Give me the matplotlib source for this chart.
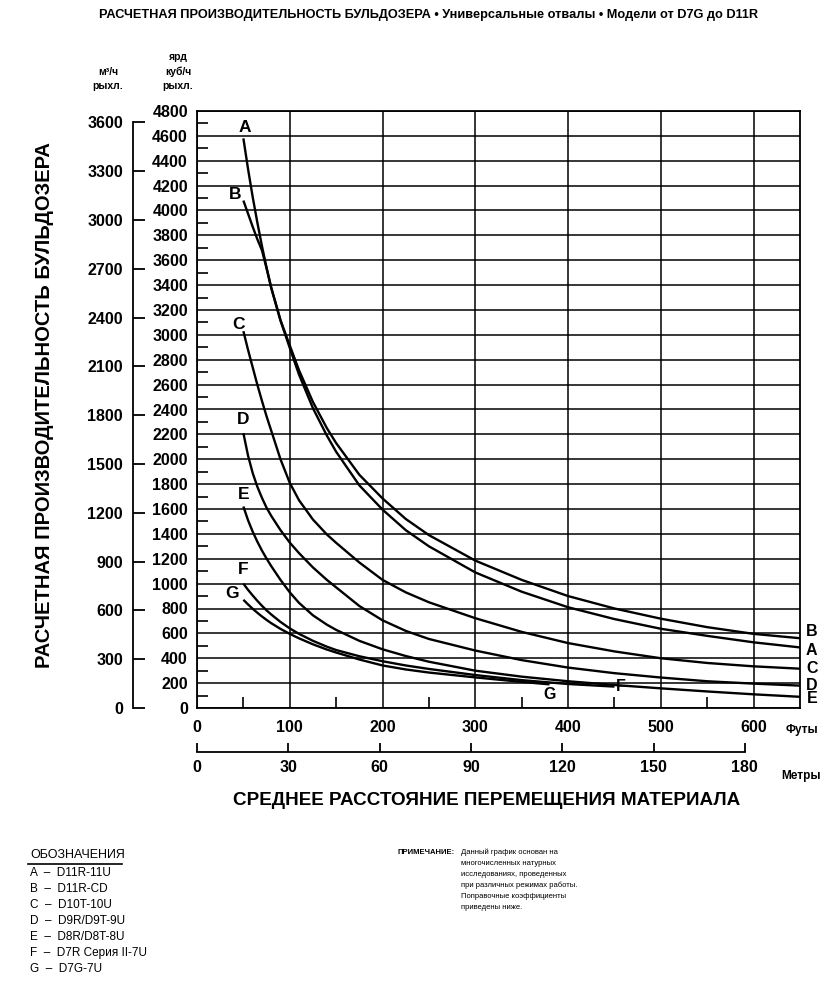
import matplotlib
matplotlib.use("Agg")
import matplotlib.pyplot as plt
from matplotlib.lines import Line2D

plt.rcParams['font.family'] = ['Liberation Sans', 'DejaVu Sans']
plt.rcParams['font.weight'] = 'bold'

# values: distance in feet, production in loose cubic yards per hour
dist_full = [50, 55, 60, 65, 70, 75, 80, 90, 100, 110, 125, 140, 150, 175, 200, 225, 250, 300, 350, 400, 450, 500, 550, 600, 650]
prod_a = [4580, 4335, 4110, 3905, 3715, 3540, 3380, 3115, 2895, 2680, 2410, 2190, 2060, 1790, 1595,
          1430, 1300, 1090, 935, 810, 715, 637, 580, 528, 487]
prod_b = [4080, 3975, 3870, 3770, 3680, 3535, 3378, 3118, 2915, 2715, 2460, 2250, 2130, 1875, 1685,
          1520, 1390, 1185, 1030, 900, 800, 718, 650, 596, 561]
prod_c = [3030, 2880, 2740, 2600, 2470, 2345, 2230, 2000, 1810, 1670, 1515, 1395, 1328, 1170, 1030,
          930, 850, 722, 612, 522, 455, 400, 362, 335, 316]
prod_d = [2210, 2030, 1890, 1780, 1690, 1610, 1545, 1430, 1330, 1245, 1130, 1030, 970, 820, 705,
          620, 555, 462, 385, 325, 280, 245, 215, 196, 180]
prod_e = [1620, 1510, 1418, 1338, 1266, 1201, 1141, 1030, 930, 845, 745, 670, 628, 540, 472,
          418, 372, 300, 252, 215, 185, 158, 133, 110, 90]
dist_f = [50, 55, 60, 65, 70, 75, 80, 90, 100, 110, 125, 140, 150, 175, 200, 225, 250, 300, 350, 400, 450]
prod_f = [1000, 950, 905, 862, 822, 785, 752, 692, 640, 596, 540, 493, 466, 416, 376, 342, 314, 265, 224, 193, 172]
dist_g = [50, 55, 60, 65, 70, 75, 80, 90, 100, 110, 125, 140, 150, 175, 200, 225, 250, 300, 350, 380]
prod_g = [870, 833, 798, 766, 736, 708, 682, 636, 596, 560, 512, 470, 446, 390, 342, 310, 285, 246, 210, 190]

curve_names = ['A', 'B', 'C', 'D', 'E', 'F', 'G']
models = ['D11R-11U', 'D11R-CD', 'D10T-10U', 'D9R/D9T-9U', 'D8R/D8T-8U', 'D7R Серия II-7U', 'D7G-7U']

feet_ticks = [0, 100, 200, 300, 400, 500, 600]
meter_ticks = [0, 30, 60, 90, 120, 150, 180]
yd_ticks = list(range(0, 4801, 200))
m3_ticks = list(range(0, 3601, 300))

note_lines = ['Данный график основан на', 'многочисленных натурных', 'исследованиях, проведенных',
              'при различных режимах работы.', 'Поправочные коэффициенты', 'приведены ниже.']

YD_PER_M3 = 1.308
M_PER_FT = 0.3048

fig = plt.figure(figsize=(8.33, 9.88), dpi=100)
ax = fig.add_axes([197 / 833, 280 / 988, 603 / 833, 597 / 988])

curves = [(dist_full, prod_a), (dist_full, prod_b), (dist_full, prod_c), (dist_full, prod_d),
          (dist_full, prod_e), (dist_f, prod_f), (dist_g, prod_g)]
for xs, ys in curves:
    ax.plot(xs, ys, color='black', lw=1.7, solid_capstyle='butt', solid_joinstyle='round', zorder=3)

# letters at the start of each curve (offsets in points)
start_offsets = [(1, 8), (-6, 4.5), (-3.5, 4.5), (0, 10), (0, 8.5), (0, 10), (-8.5, 4.5)]
for name, (xs, ys), off in zip(curve_names, curves, start_offsets):
    ax.annotate(name, (xs[0], ys[0]), xytext=off, textcoords='offset points',
                ha='center', va='center', fontsize=12.5, zorder=4)

# letters at the right hand end of the curves
end_offsets = [(8.5, -1.9), (8.5, 4.7), (8.5, 0), (8.5, 0), (8.5, -1.5), (4.8, 0), (0, -7.5)]
for name, (xs, ys), off in zip(curve_names, curves, end_offsets):
    ax.annotate(name, (xs[-1], ys[-1]), xytext=off, textcoords='offset points',
                ha='center', va='center', fontsize=11.5, annotation_clip=False, zorder=4)

ax.set_xlim(0, 650)
ax.set_ylim(0, 4800)
ax.set_xticks(feet_ticks)
ax.set_yticks(yd_ticks)
ax.set_xticks(list(range(50, 600, 100)), minor=True)
ax.set_yticks(list(range(100, 4800, 200)), minor=True)
ax.grid(True, which='major', color='black', lw=1.1, zorder=1)
ax.tick_params(which='major', length=0, labelsize=11.5)
ax.tick_params(axis='x', which='major', pad=9)
ax.tick_params(axis='y', which='major', pad=6.5)
ax.tick_params(which='minor', direction='in', length=8, width=1.2)
for sp in ax.spines.values():
    sp.set_linewidth(1.3)

# second scale: cubic metres per hour
sec_y = ax.secondary_yaxis(-0.1066, functions=(lambda v: v / YD_PER_M3, lambda v: v * YD_PER_M3))
sec_y.set_yticks(m3_ticks)
sec_y.tick_params(direction='in', length=8.6, width=1.3, pad=7, labelsize=11.5)
sec_y.spines['left'].set_bounds(0, 3600)
sec_y.spines['left'].set_linewidth(1.3)

# second scale: metres
sec_x = ax.secondary_xaxis(-0.0737, functions=(lambda v: v * M_PER_FT, lambda v: v / M_PER_FT))
sec_x.set_xticks(meter_ticks)
sec_x.tick_params(direction='in', length=6.5, width=1.3, pad=6, labelsize=11.5)
sec_x.spines['bottom'].set_bounds(0, 180)
sec_x.spines['bottom'].set_linewidth(1.3)

# titles and axis captions
fig.text(429 / 833, 1 - 15 / 988,
         'РАСЧЕТНАЯ ПРОИЗВОДИТЕЛЬНОСТЬ БУЛЬДОЗЕРА • Универсальные отвалы • Модели от D7G до D11R',
         ha='center', va='center', fontsize=9.2)
fig.text(45 / 833, 1 - 405 / 988, 'РАСЧЕТНАЯ ПРОИЗВОДИТЕЛЬНОСТЬ БУЛЬДОЗЕРА',
         rotation=90, ha='center', va='center', fontsize=14.5)
fig.text(487 / 833, 1 - 800 / 988, 'СРЕДНЕЕ РАССТОЯНИЕ ПЕРЕМЕЩЕНИЯ МАТЕРИАЛА',
         ha='center', va='center', fontsize=13.6)
fig.text(802 / 833, 1 - 730 / 988, 'Футы', ha='center', va='center', fontsize=8.5)
fig.text(801 / 833, 1 - 776 / 988, 'Метры', ha='center', va='center', fontsize=8.5)

for txt, yy in [('ярд', 57), ('куб/ч', 72), ('рыхл.', 86)]:
    fig.text(178 / 833, 1 - yy / 988, txt, ha='center', va='center', fontsize=7.5)
for txt, yy in [('м³/ч', 72), ('рыхл.', 86)]:
    fig.text(108 / 833, 1 - yy / 988, txt, ha='center', va='center', fontsize=7.5)

# legend block
fig.text(30 / 833, 1 - 855 / 988, 'ОБОЗНАЧЕНИЯ', ha='left', va='center', fontsize=9, fontweight='normal')
fig.add_artist(Line2D([28 / 833, 122 / 833], [1 - 864 / 988, 1 - 864 / 988], color='black', lw=1.2))
for i, (name, model) in enumerate(zip(curve_names, models)):
    fig.text(30 / 833, 1 - (873 + 16 * i) / 988, f'{name}  –  {model}',
             ha='left', va='center', fontsize=8.5, fontweight='normal')

# note
fig.text(398 / 833, 1 - 852 / 988, 'ПРИМЕЧАНИЕ:', ha='left', va='center', fontsize=5.5)
for i, line in enumerate(note_lines):
    fig.text(461 / 833, 1 - (852 + 11 * i) / 988, line, ha='left', va='center',
             fontsize=5.5, fontweight='normal')

fig.savefig('out.png', dpi=100)
